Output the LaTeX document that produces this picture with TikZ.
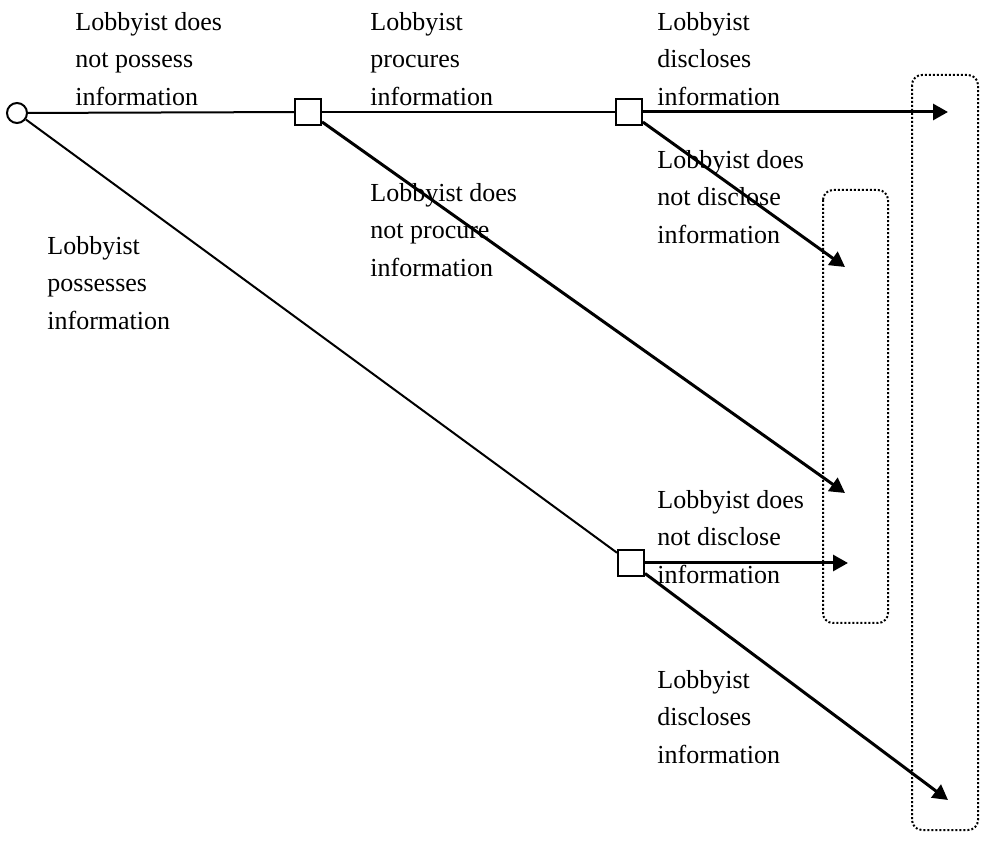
\documentclass[tikz,border=0pt]{standalone}
\usepackage{fontspec}
\setmainfont{Liberation Serif}
\usetikzlibrary{arrows.meta}

\begin{document}
\begin{tikzpicture}[
    x=0.5pt, y=-0.5pt,
    chance/.style={circle, draw, line width=1pt, minimum size=10pt, inner sep=0pt},
    move/.style={rectangle, draw, line width=1pt, minimum size=13pt, inner sep=0pt},
    edge/.style={line width=1pt},
    arr/.style={-{Triangle[length=7.5pt,width=8pt]}, line width=1.5pt},
    lbl/.style={font=\fontsize{13pt}{18.75pt}\selectfont, align=left,
                anchor=north west, inner sep=0pt},
    grpbox/.style={line width=1pt, dash pattern=on 1pt off 1pt, rounded corners=5pt},
  ]
    \useasboundingbox (0,0) rectangle (981,844);

    % information sets
    \draw[grpbox] (912,75) rectangle (978,830);
    \draw[grpbox] (823,190) rectangle (888,623);

    % decision nodes
    \node[chance] (root) at (17,113) {};
    \node[move] (np) at (308,112) {};
    \node[move] (pr) at (629,112) {};
    \node[move] (po) at (631,563) {};

    % end points
    \coordinate (prD) at (948,112);
    \coordinate (prN) at (845,267);
    \coordinate (npN) at (845,493);
    \coordinate (poN) at (848,563);
    \coordinate (poD) at (948,800);

    % labels
    \node[lbl] (lNp) at (75,12) {Lobbyist does\\not possess\\information};
    \node[lbl] (lPr) at (370,12) {Lobbyist\\procures\\information};
    \node[lbl] (lPrD) at (657,12) {Lobbyist\\discloses\\information};
    \node[lbl] (lNpN) at (370,183) {Lobbyist does\\not procure\\information};
    \node[lbl] (lPo) at (47,236) {Lobbyist\\possesses\\information};
    \node[lbl] (lPrN) at (657,150) {Lobbyist does\\not disclose\\information};
    \node[lbl] (lPoN) at (657,490) {Lobbyist does\\not disclose\\information};
    \node[lbl] (lPoD) at (657,670) {Lobbyist\\discloses\\information};

    % branches
    \draw[edge] (root) -- (np);
    \draw[edge] (root) -- (po);
    \draw[edge] (np) -- (pr);
    \draw[arr] (np) -- (npN);
    \draw[arr] (pr) -- (prD);
    \draw[arr] (pr) -- (prN);
    \draw[arr] (po) -- (poN);
    \draw[arr] (po) -- (poD);
  \end{tikzpicture}
\end{document}
